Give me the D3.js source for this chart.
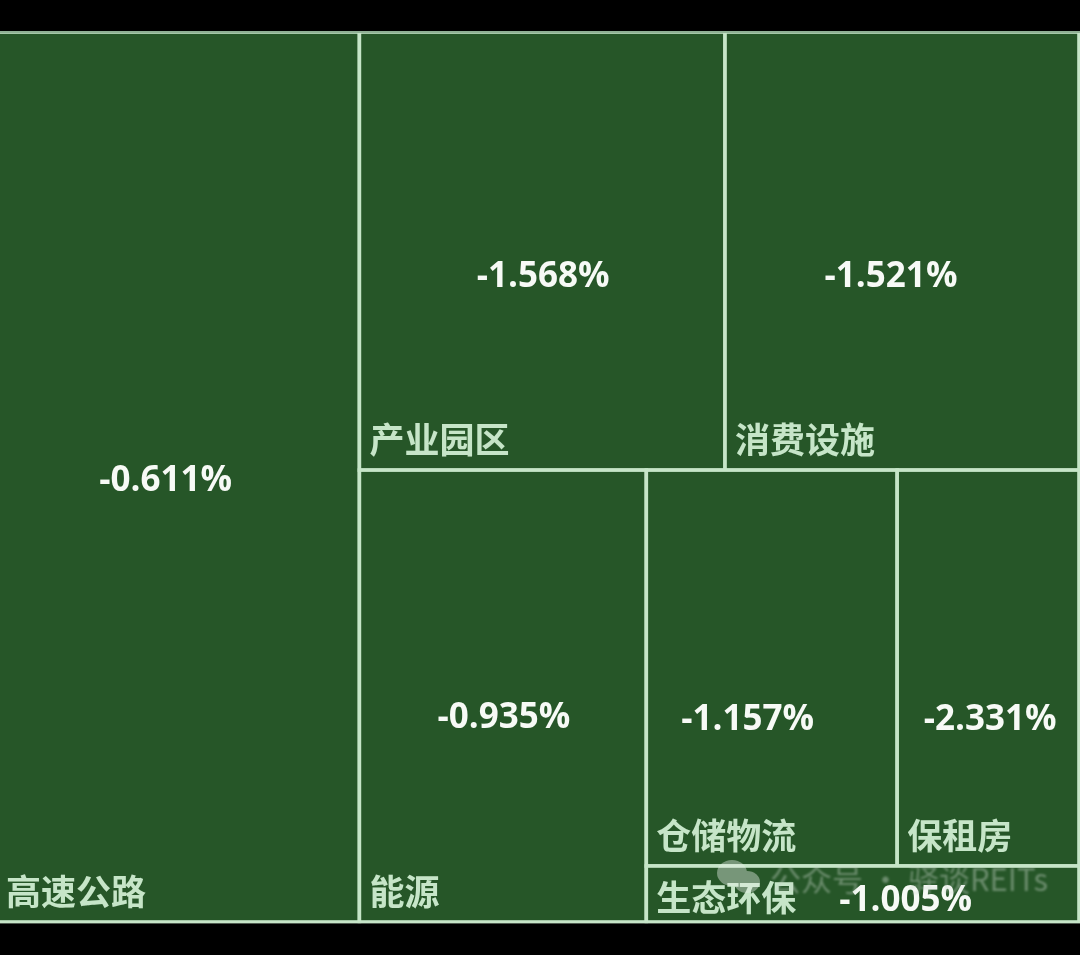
<!DOCTYPE html>
<html lang="zh">
<head>
<meta charset="utf-8">
<script src="https://cdn.jsdelivr.net/npm/d3@7"></script>
<style>
html,body{margin:0;padding:0;background:#000;overflow:hidden}
svg{display:block}
</style>
</head>
<body>
<script>
// Data, read from the picture (weights are estimated from cell areas)
const sectors = ["高速公路","产业园区","消费设施","能源","仓储物流","保租房","生态环保"];
const weights = [321.3,160.0,154.9,129.5,99.2,71.9,24.2];
const returns = ["-0.611%","-1.568%","-1.521%","-0.935%","-1.157%","-2.331%","-1.005%"];
// Nesting of the treemap, by sector index
const nesting = [0,[[1,2],[3,[[4,5],6]]]];
const watermarkText = "公众号 · 驿谈REITs";

// Label placement inside each cell (offset of value centre from cell centre)
const valueDx = [-13,1,-11,1,-24,2,43];
const valueDy = [2,24,24,20,50,50,5];

const W=1080,H=955;
const plot={x0:-2,y0:32,x1:1079,y1:922};
const LINE="#c6e5c8",FILL="#265628";
const CJK='"Noto Sans CJK SC","Noto Sans",sans-serif';
const NUM='"Open Sans","Noto Sans",sans-serif';

function build(n){
  return Array.isArray(n)?{children:n.map(build)}:{index:n,value:weights[n]};
}
const root=d3.hierarchy(build(nesting)).sum(d=>d.value||0);
d3.treemap().tile(d3.treemapSliceDice).size([plot.x1-plot.x0,plot.y1-plot.y0]).round(false)(root);
const leaves=root.leaves().sort((a,b)=>a.data.index-b.data.index);

const svg=d3.select("body").append("svg").attr("width",W).attr("height",H).attr("viewBox",[0,0,W,H]);
const defs=svg.append("defs");
defs.append("filter").attr("id","soft").append("feGaussianBlur").attr("stdDeviation",0.9);
defs.append("filter").attr("id","soft2").append("feGaussianBlur").attr("stdDeviation",0.6);
svg.append("rect").attr("width",W).attr("height",H).attr("fill","#000");

const g=svg.append("g").attr("transform",`translate(${plot.x0},${plot.y0})`);
const cell=g.selectAll("g.cell").data(leaves).join("g").attr("class","cell");
cell.append("rect")
  .attr("x",d=>d.x0).attr("y",d=>d.y0)
  .attr("width",d=>d.x1-d.x0).attr("height",d=>d.y1-d.y0)
  .attr("fill",FILL).attr("stroke",LINE).attr("stroke-width",3.6);

// top edge is thinner and dimmer in the reference; black band above it
svg.append("rect").attr("x",0).attr("y",0).attr("width",W).attr("height",31).attr("fill","#000");
svg.append("rect").attr("x",0).attr("y",31).attr("width",W).attr("height",2).attr("fill","#8fb094");
svg.append("rect").attr("x",0).attr("y",923.5).attr("width",W).attr("height",32).attr("fill","#000");

cell.append("text")
  .attr("x",d=>d.x0+(d.data.index===0?8:10))
  .attr("y",d=>d.y1-(d.data.index===6?11:17))
  .attr("font-family",CJK).attr("font-weight",700).attr("font-size",35)
  .attr("fill",LINE).attr("filter","url(#soft2)")
  .text(d=>sectors[d.data.index]);

// watermark
const wm=svg.append("g").attr("opacity",0.42);
wm.append("ellipse").attr("cx",732).attr("cy",873).attr("rx",15).attr("ry",13).attr("fill","#e8efe8");
wm.append("ellipse").attr("cx",747).attr("cy",882).attr("rx",13).attr("ry",11).attr("fill","#e8efe8");
wm.append("text").attr("x",770).attr("y",891).attr("font-family",CJK).attr("font-size",31)
  .attr("fill","#c9d6ca").attr("filter","url(#soft)").text(watermarkText);

cell.append("text")
  .attr("x",d=>(d.x0+d.x1)/2+valueDx[d.data.index])
  .attr("y",d=>(d.y0+d.y1)/2+valueDy[d.data.index]+12)
  .attr("text-anchor","middle")
  .attr("font-family",NUM).attr("font-weight",700).attr("font-size",35)
  .attr("fill","#f7faf6").attr("filter","url(#soft2)")
  .text(d=>returns[d.data.index]);
</script>
</body>
</html>
